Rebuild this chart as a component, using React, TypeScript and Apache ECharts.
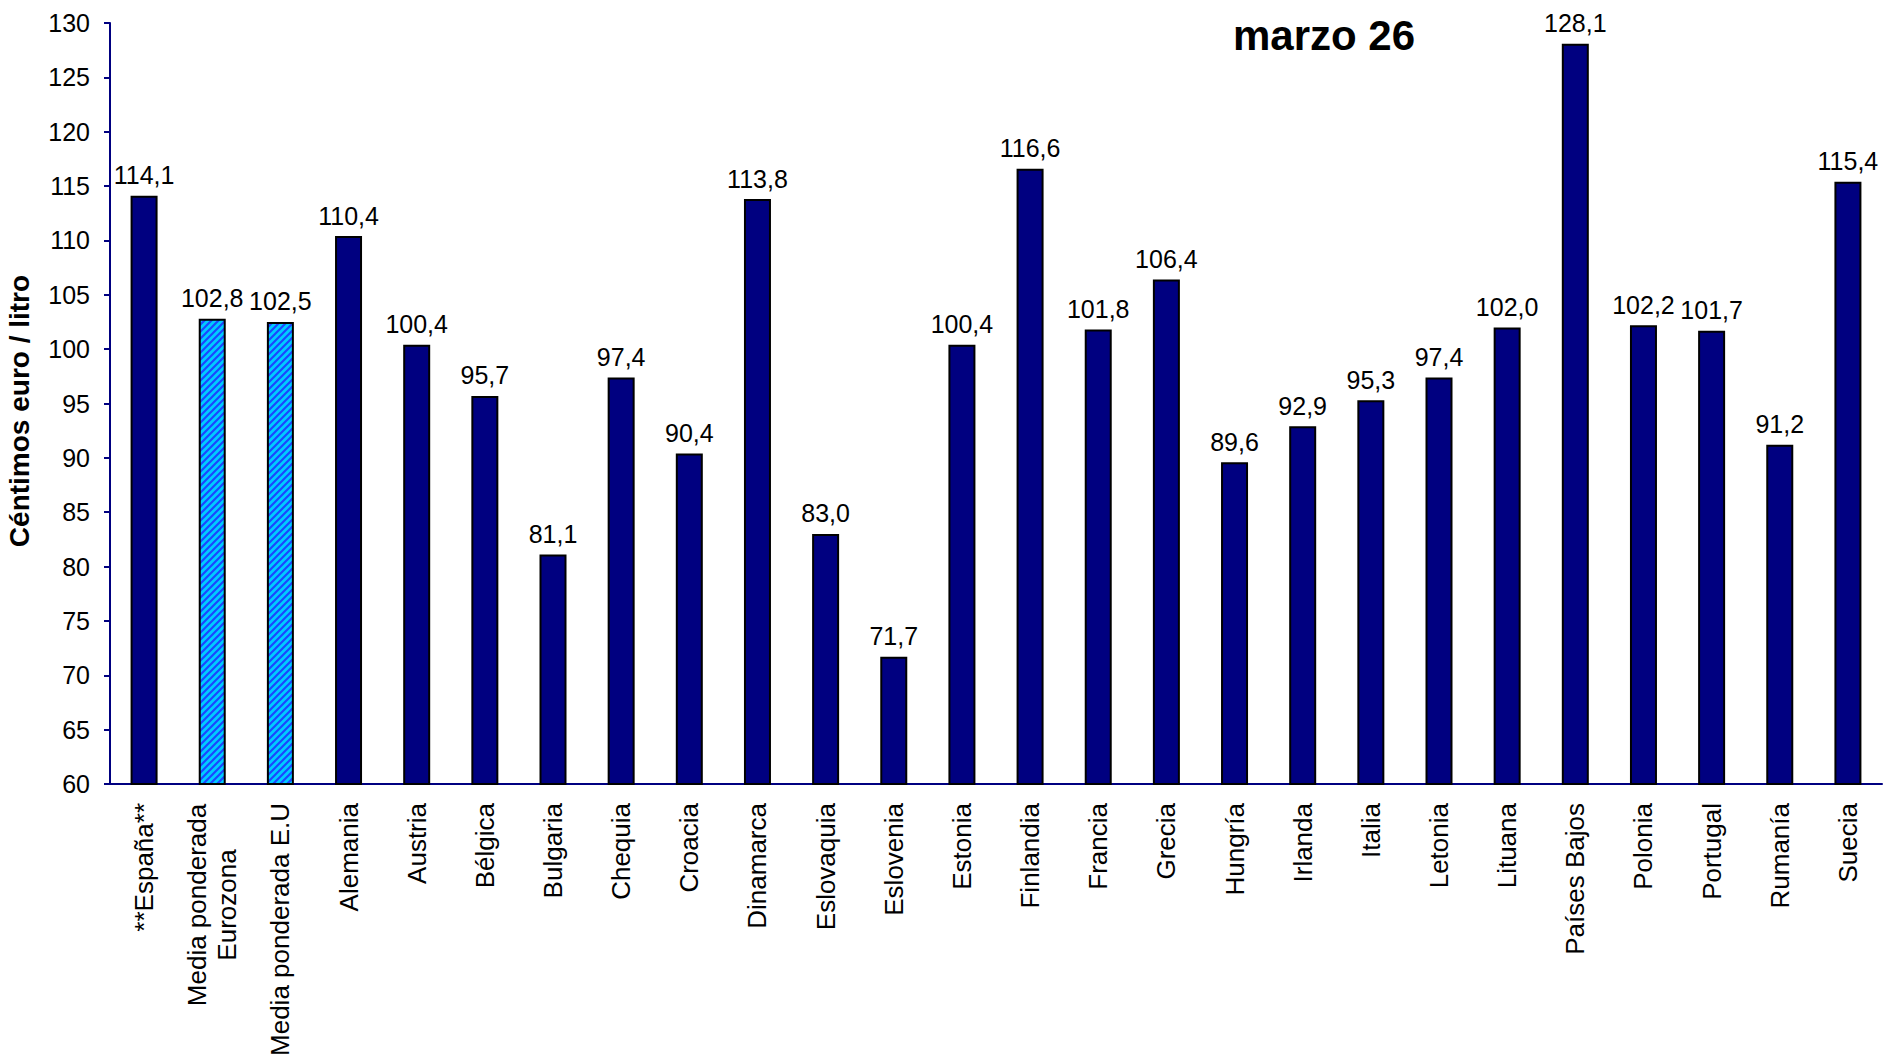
import React, { useEffect, useRef } from "react";
import * as echarts from "echarts";

const categories = [
  "**España**",
  "Media ponderada\nEurozona",
  "Media ponderada E.U",
  "Alemania",
  "Austria",
  "Bélgica",
  "Bulgaria",
  "Chequia",
  "Croacia",
  "Dinamarca",
  "Eslovaquia",
  "Eslovenia",
  "Estonia",
  "Finlandia",
  "Francia",
  "Grecia",
  "Hungría",
  "Irlanda",
  "Italia",
  "Letonia",
  "Lituana",
  "Países Bajos",
  "Polonia",
  "Portugal",
  "Rumanía",
  "Suecia",
];

const values = [
  114.1, 102.8, 102.5, 110.4, 100.4, 95.7, 81.1, 97.4, 90.4, 113.8, 83.0, 71.7,
  100.4, 116.6, 101.8, 106.4, 89.6, 92.9, 95.3, 97.4, 102.0, 128.1, 102.2, 101.7,
  91.2, 115.4,
];

const averageCategories = ["Media ponderada\nEurozona", "Media ponderada E.U"];

const title = "marzo 26";
const yAxisName = "Céntimos euro / litro";
const yMin = 60;
const yMax = 130;
const yStep = 5;

const FONT = "'Liberation Sans', Arial, sans-serif";
const NAVY = "#000080";

function makeHatch(): HTMLCanvasElement {
  const s = 7;
  const c = document.createElement("canvas");
  c.width = s;
  c.height = s;
  const ctx = c.getContext("2d")!;
  ctx.fillStyle = "#00CCFF";
  ctx.fillRect(0, 0, s, s);
  ctx.strokeStyle = "#1C46FF";
  ctx.lineWidth = 2.2;
  ctx.beginPath();
  for (const off of [-s, 0, s]) {
    ctx.moveTo(off - 1, s + 1);
    ctx.lineTo(off + s + 1, -1);
  }
  ctx.stroke();
  return c;
}

export default function App() {
  const ref = useRef<HTMLDivElement>(null);

  useEffect(() => {
    if (!ref.current) return;
    const chart = echarts.init(ref.current, undefined, { renderer: "svg" });
    const hatch = makeHatch();

    const data = values.map((v, i) => {
      const isAvg = averageCategories.includes(categories[i]);
      return {
        value: v,
        itemStyle: isAvg
          ? {
              color: { image: hatch, repeat: "repeat" },
              borderColor: "#000000",
              borderWidth: 2,
            }
          : { color: NAVY, borderColor: "#000000", borderWidth: 2 },
      };
    });

    chart.setOption({
      animation: false,
      backgroundColor: "#ffffff",
      title: {
        text: title,
        left: 1319,
        top: 9,
        textAlign: "center",
        textStyle: {
          fontFamily: FONT,
          fontWeight: "bold",
          fontSize: 42,
          color: "#000000",
        },
      },
      grid: {
        left: 110,
        right: 1,
        top: 23,
        bottom: 277,
        containLabel: false,
        outerBoundsMode: "none",
      },
      xAxis: {
        type: "category",
        data: categories,
        axisLine: { show: true, lineStyle: { color: NAVY, width: 2 } },
        axisTick: { show: false },
        axisLabel: {
          interval: 0,
          rotate: 90,
          margin: 19,
          fontFamily: FONT,
          fontSize: 26,
          color: "#000000",
          formatter: (v: string) =>
            v.includes("\n")
              ? v
                  .split("\n")
                  .map((s) => `{c|${s}}`)
                  .join("\n")
              : v,
          rich: {
            c: {
              width: 204,
              align: "center",
              fontFamily: FONT,
              fontSize: 26,
              color: "#000000",
              lineHeight: 30,
            },
          },
        },
      },
      yAxis: {
        type: "value",
        min: yMin,
        max: yMax,
        interval: yStep,
        name: yAxisName,
        nameLocation: "middle",
        nameGap: 77,
        nameRotate: 90,
        nameTextStyle: {
          fontFamily: FONT,
          fontWeight: "bold",
          fontSize: 28,
          color: "#000000",
          padding: [0, 15, 0, 0],
        },
        axisLine: { show: true, lineStyle: { color: NAVY, width: 2 } },
        axisTick: { show: true, inside: false, length: 6, lineStyle: { color: NAVY, width: 2 } },
        splitLine: { show: false },
        axisLabel: {
          margin: 20,
          fontFamily: FONT,
          fontSize: 25,
          color: "#000000",
        },
      },
      series: [
        {
          type: "bar",
          data,
          barWidth: 27,
          label: {
            show: true,
            position: "top",
            distance: 8,
            fontFamily: FONT,
            fontSize: 25,
            color: "#000000",
            formatter: (p: any) => Number(p.value).toFixed(1).replace(".", ","),
          },
        },
      ],
    });

    return () => chart.dispose();
  }, []);

  return (
    <div
      ref={ref}
      style={{ position: "fixed", left: 0, top: 0, width: 1883, height: 1061 }}
    />
  );
}
